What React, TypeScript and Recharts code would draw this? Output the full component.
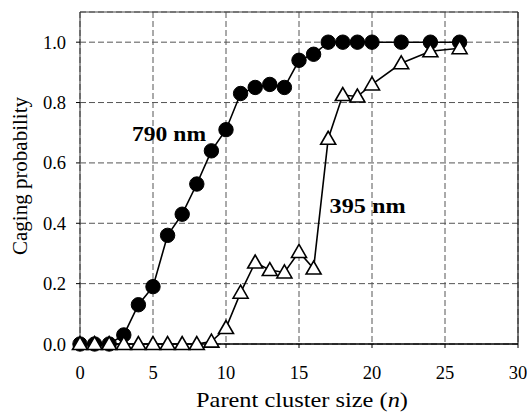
import React from "react";
import {
  LineChart, Line, XAxis, YAxis, CartesianGrid, ReferenceLine, ReferenceDot, Label,
} from "recharts";

// cluster size n
const sizes = [0, 1, 2, 3, 4, 5, 6, 7, 8, 9, 10, 11, 12, 13, 14, 15, 16, 17, 18, 19, 20, 22, 24, 26];
// caging probability, 790 nm (filled circles)
const p790 = [0, 0, 0, 0.03, 0.13, 0.19, 0.36, 0.43, 0.53, 0.64, 0.71, 0.83, 0.85, 0.86, 0.85, 0.94, 0.96, 1.0, 1.0, 1.0, 1.0, 1.0, 1.0, 1.0];
// caging probability, 395 nm (open triangles)
const p395 = [0, 0, 0, 0, 0, 0, 0, 0, 0, 0.008, 0.053, 0.17, 0.27, 0.245, 0.237, 0.305, 0.25, 0.68, 0.825, 0.82, 0.86, 0.93, 0.97, 0.98];

const xTicks = [0, 5, 10, 15, 20, 25, 30];
const yTicks = [0, 0.2, 0.4, 0.6, 0.8, 1.0];

const data = sizes.map((n, i) => ({ n, a: p790[i], b: p395[i] }));

const FONT = '"Liberation Serif", "Times New Roman", serif';
const tickStyle = { fontSize: 18.5, fill: "#000", fontFamily: FONT };

// open triangle marker
function Tri(props: any) {
  const { cx, cy, index } = props;
  if (cx == null || cy == null) return null;
  return (
    <polygon
      key={`t${index}`}
      points={`${cx},${cy - 7.5} ${cx - 7.5},${cy + 5.5} ${cx + 7.5},${cy + 5.5}`}
      fill="#fff"
      stroke="#000"
      strokeWidth={1.6}
    />
  );
}

function XTitle(props: any) {
  const vb = props.viewBox || {};
  const x = vb.x + vb.width / 2 + 3;
  return (
    <text x={x} y={407} textAnchor="middle" fontSize={21} fontFamily={FONT} fill="#000"
      textLength={212} lengthAdjust="spacingAndGlyphs">
      Parent cluster size (<tspan fontStyle="italic">n</tspan>)
    </text>
  );
}

function YTitle() {
  return (
    <text
      x={0}
      y={0}
      transform="translate(27,176) rotate(-90)"
      textAnchor="middle"
      fontSize={21}
      fontFamily={FONT}
      fill="#000"
    >
      Caging probability
    </text>
  );
}

// bold annotation centred on a reference point
function Note(props: any) {
  const vb = props.viewBox || {};
  const cx = vb.x + (vb.width || 0) / 2;
  const cy = vb.y + (vb.height || 0) / 2;
  return (
    <text x={cx} y={cy + 7} textAnchor="middle" fontSize={21} fontWeight={700}
      fontFamily={FONT} fill="#000" textLength={props.len} lengthAdjust="spacingAndGlyphs">
      {props.value}
    </text>
  );
}

export default function App() {
  return (
    <div style={{ position: "absolute", left: 0, top: 0, width: 527, height: 414, background: "#fff", fontFamily: FONT }}>
      <LineChart
        width={527}
        height={414}
        data={data}
        margin={{ top: 12, right: 9, left: 0, bottom: 0 }}
      >
        <CartesianGrid strokeDasharray="6 3" stroke="#555" strokeWidth={1} />
        <XAxis
          dataKey="n"
          type="number"
          domain={[0, 30]}
          ticks={xTicks}
          interval={0}
          height={70}
          tick={tickStyle}
          tickSize={4}
          tickMargin={18}
          axisLine={{ stroke: "#000", strokeWidth: 1.5 }}
          tickLine={{ stroke: "#000" }}
        >
          <Label content={<XTitle />} />
        </XAxis>
        <YAxis
          type="number"
          domain={[0, 1.1]}
          ticks={yTicks}
          interval={0}
          width={80}
          tick={tickStyle}
          tickSize={4}
          tickMargin={10}
          tickFormatter={(v: number) => v.toFixed(1)}
          axisLine={{ stroke: "#333", strokeWidth: 1 }}
          tickLine={{ stroke: "#000" }}
        >
          <Label content={<YTitle />} />
        </YAxis>
        <ReferenceLine y={1.1} stroke="#444" strokeWidth={1} />
        <ReferenceLine x={30} stroke="#222" strokeWidth={1.2} />
        <Line
          dataKey="a"
          stroke="#000"
          strokeWidth={1.6}
          dot={{ r: 7.2, fill: "#000", stroke: "#000", strokeWidth: 1 }}
          isAnimationActive={false}
        />
        <Line
          dataKey="b"
          stroke="#000"
          strokeWidth={1.6}
          dot={<Tri />}
          isAnimationActive={false}
        />
        <ReferenceDot x={6.1} y={0.695} r={0} fill="none" stroke="none"
          label={<Note value="790 nm" len={74} />} />
        <ReferenceDot x={19.7} y={0.456} r={0} fill="none" stroke="none"
          label={<Note value="395 nm" len={76} />} />
      </LineChart>
    </div>
  );
}
